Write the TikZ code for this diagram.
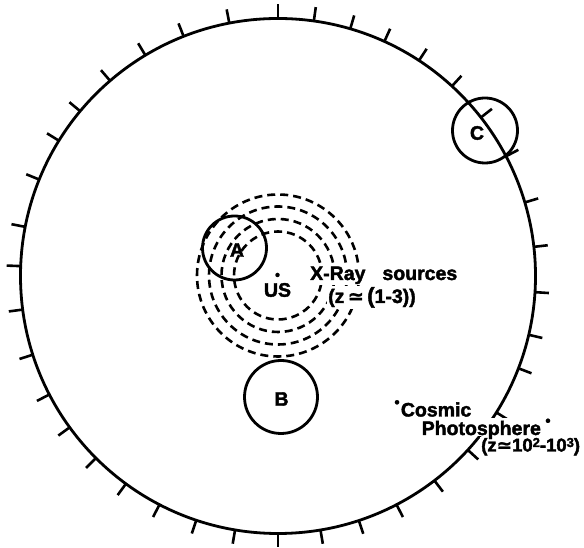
\documentclass[tikz,border=0pt]{standalone}
\usepackage{fontspec}
\setmainfont{Liberation Sans}[BoldFeatures={FakeBold=2}]
\newfontfamily\symfont{DejaVu Sans}[BoldFeatures={FakeBold=1.2}]
\usetikzlibrary{calc}
\newcommand{\qdot}{\raisebox{0.5em}{\fontsize{12}{12}\selectfont\symfont •}}
\newcommand{\supx}[1]{\raisebox{4.5pt}{\fontsize{13}{13}\selectfont #1}}
\begin{document}
\begin{tikzpicture}[x=1pt,y=1pt,
  lbl/.style={font=\fontsize{19.5}{22}\selectfont\bfseries, inner sep=0pt},
  wlbl/.style={lbl, fill=white, inner sep=1pt},
  ring/.style={draw, circle, line width=2.8pt, inner sep=0pt},
  dring/.style={line width=2.6pt, dash pattern=on 8pt off 5pt},
  tk/.style={line width=2.6pt}]
\useasboundingbox (0,0) rectangle (584,548);
\coordinate (O) at (278,272);
% outer sky circle
\node[ring, minimum size=515pt] (sky) at (O) {};
\foreach \a in {90,82,73.7,65.6,56.8,47.5,38,27.7,16.6,6.5,356.4,346.8,339,328,317.5,307.4,297.4,288.3,279.5,270,260.4,251.5,242.6,233.8,225,216,207.4,197.8,187.5,177.8,169,158,148.3,140.2,130.7,121,111.5,100.9}
  \draw[tk] ($(O)+(\a:257.5)$) -- ($(O)+(\a:271.5)$);
% dashed X-ray shells
\coordinate (U) at (278,272.5);
\foreach \r in {44,56.5,69,81}
  \draw[dring] (U) circle[radius=\r];
% observer
\node[circle, fill, inner sep=0pt, minimum size=4.5pt] (us) at (277.5,273) {};
\node[lbl] (uslbl) at (277.5,258) {US};
% sources
\node[ring, minimum size=64pt] (A) at (234.5,300) {};
\node[lbl] (Albl) at (237,298) {A};
\node[ring, minimum size=73pt] (B) at (281,151) {};
\node[lbl] (Blbl) at (281.5,149) {B};
\node[ring, minimum size=65pt] (C) at (485,417.5) {};
\node[lbl] (Clbl) at (477,415) {C};
% labels
\node[wlbl, anchor=base west] (xray) at (309,268) {X-Ray\hspace{17pt}sources};
\node[wlbl, anchor=base west] (xz) at (327,245) {(z\,{\symfont ≃}\,{\fontsize{22}{22}\selectfont(}1-3))};
\node[wlbl, anchor=base west] (cos) at (392,131.5) {\qdot Cosmic};
\node[wlbl, anchor=base west, font=\fontsize{18.5}{20}\selectfont\bfseries] (pz) at (480,96.5) {(z{\symfont ≃}10\supx{2}-10\supx{3})};
\node[wlbl, anchor=base west, text depth=1pt, inner sep=0.5pt] (pho) at (421,113) {Photosphere\,\qdot};
\end{tikzpicture}
\end{document}
